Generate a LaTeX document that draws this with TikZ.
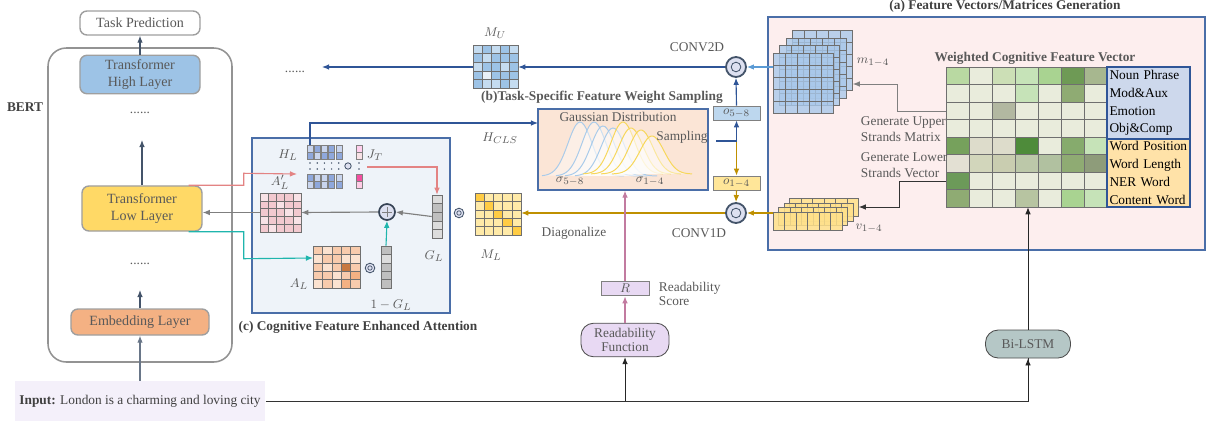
\documentclass[tikz,border=0pt]{standalone}
\usepackage{amsmath}
\usepackage{fontspec}
\setmainfont{Liberation Serif}
\usetikzlibrary{arrows.meta, positioning, calc, fit}

\definecolor{txtgray}{HTML}{595959}
\definecolor{ttlgray}{HTML}{404040}
\definecolor{arrdark}{HTML}{44546A}
\definecolor{bluedeep}{HTML}{2F5597}
\definecolor{bluemid}{HTML}{5B9BD5}
\definecolor{goldline}{HTML}{BF9000}
\definecolor{pinkline}{HTML}{E38383}
\definecolor{tealline}{HTML}{1FB5AD}
\definecolor{readpink}{HTML}{C27BA0}
\definecolor{frameblue}{HTML}{4A6EA8}
\definecolor{gridline}{HTML}{6F6F6F}
\definecolor{grayarr}{HTML}{7F7F7F}
\definecolor{highfill}{HTML}{9DC3E6}
\definecolor{lowfill}{HTML}{FFD966}
\definecolor{embfill}{HTML}{F4B183}
\definecolor{inputfill}{HTML}{F4F0FA}
\definecolor{cfill}{HTML}{EEF3F9}
\definecolor{afill}{HTML}{FDEEEE}
\definecolor{gaussfill}{HTML}{FBE5D6}
\definecolor{convfill}{HTML}{DDE0F0}
\definecolor{readfill}{HTML}{E8D9F3}
\definecolor{lstmfill}{HTML}{B5C7C6}
\definecolor{oblue}{HTML}{BDD7EE}
\definecolor{oyellow}{HTML}{FFE699}
\definecolor{labblue}{HTML}{CDD8EC}
\definecolor{laborange}{HTML}{FFE2A8}
\definecolor{curveblue}{HTML}{A9CBEA}
\definecolor{curveyel}{HTML}{F7D75A}
% matrix cells
\definecolor{bA}{HTML}{9DC3E6}
\definecolor{bB}{HTML}{C5DCF0}
\definecolor{bC}{HTML}{E8F0F8}
\definecolor{yD}{HTML}{FFCC44}
\definecolor{yL}{HTML}{FFEAA8}
\definecolor{pA}{HTML}{F2C9CF}
\definecolor{pB}{HTML}{F8E2E6}
\definecolor{oA}{HTML}{F8CBAD}
\definecolor{oB}{HTML}{FBE2D0}
\definecolor{oC}{HTML}{F4B183}
\definecolor{oD}{HTML}{C87840}
\definecolor{vL}{HTML}{DCDCDC}
\definecolor{vD}{HTML}{BFBFBF}
\definecolor{hA}{HTML}{8FA8DC}
\definecolor{hB}{HTML}{C9D5EE}
\definecolor{mblue}{HTML}{A9C8EA}
\definecolor{vyel}{HTML}{FFE08A}
% weighted feature grid
\definecolor{gL}{HTML}{E9ECDC}
\definecolor{gA}{HTML}{B9D9A2}
\definecolor{gB}{HTML}{CCDFB6}
\definecolor{gC}{HTML}{C6E3B8}
\definecolor{gD}{HTML}{A9D391}
\definecolor{gE}{HTML}{6E9A55}
\definecolor{gF}{HTML}{A7B78F}
\definecolor{gG}{HTML}{8FAB73}
\definecolor{gH}{HTML}{B2B8A1}
\definecolor{gI}{HTML}{76A15C}
\definecolor{gJ}{HTML}{DDDCCB}
\definecolor{gK}{HTML}{4E8B3A}
\definecolor{gM}{HTML}{86AB6D}
\definecolor{gN}{HTML}{E3E0D3}
\definecolor{gO}{HTML}{D2D6BB}
\definecolor{gP}{HTML}{C9CDB0}
\definecolor{gQ}{HTML}{BCC8A9}
\definecolor{gR}{HTML}{B1C1A0}
\definecolor{gS}{HTML}{8E9C7A}
\definecolor{gT}{HTML}{6C9A59}
\definecolor{gU}{HTML}{B7C4A1}

\newcommand{\fs}{\fontsize{9.5}{11}\selectfont}
% x0, y0, columns, cell width, cell height, colour list
\newcommand{\cellgrid}[6]{%
  \foreach \cc [count=\ii from 0] in {#6} {
    \pgfmathtruncatemacro{\rr}{\ii/#3}
    \pgfmathtruncatemacro{\kk}{mod(\ii,#3)}
    \filldraw[fill=\cc, draw=gridline, line width=0.4pt] ({#1+\kk*#4},{#2+\rr*#5}) rectangle ++(#4,#5);
  }}

\begin{document}
\begin{tikzpicture}[
  x=0.025cm, y=-0.025cm,
  every node/.style={font=\fs, text=txtgray, align=center},
  title/.style={font=\fs\bfseries, text=ttlgray},
  layer/.style={rectangle, draw=gray!75, line width=1pt, rounded corners=5pt, minimum width=3cm,
    font=\fontsize{10}{11.5}\selectfont},
  pill/.style={rectangle, draw=gray!60!black, line width=0.6pt, rounded corners=9pt, font=\fontsize{9.5}{10.5}\selectfont},
  gridbox/.style={inner sep=0pt},
  frame/.style={draw=frameblue, line width=0.9pt},
  conv/.style={circle, draw=arrdark, line width=1.3pt, fill=convfill, minimum size=0.5cm, inner sep=0pt,
    path picture={\draw[arrdark, line width=0.6pt] (path picture bounding box.center) circle (0.12cm);}},
  odot/.style={circle, draw=arrdark, line width=0.6pt, fill=convfill, minimum size=0.24cm, inner sep=0pt,
    path picture={\draw[arrdark, line width=0.5pt] (path picture bounding box.center) circle (0.055cm);}},
  plusnode/.style={circle, draw=arrdark!80!black, line width=1.2pt, fill=convfill, minimum size=0.4cm, inner sep=0pt,
    path picture={\draw[gray, line width=0.6pt]
      ([xshift=-0.12cm]path picture bounding box.center) -- ([xshift=0.12cm]path picture bounding box.center)
      ([yshift=-0.12cm]path picture bounding box.center) -- ([yshift=0.12cm]path picture bounding box.center);}},
  vecbox/.style={rectangle, draw=gray, line width=0.5pt, inner sep=0pt, minimum width=1.175cm, minimum height=0.35cm},
  labbox/.style={rectangle, draw=bluedeep, line width=0.8pt, text=black, align=left, minimum width=2.075cm,
    text width=1.95cm, inner sep=1pt, font=\fontsize{9.5}{12.6}\selectfont},
  arr/.style={-{Latex[length=5pt,width=4pt]}, line width=0.8pt},
]
\useasboundingbox (0,0) rectangle (1214,421);

% ---------------- BERT ----------------
\node[draw=gray!85, line width=1.1pt, rounded corners=13pt, fit={(48,48) (232,362)}, inner sep=0pt] (bert) {};
\node[font=\fs\bfseries, text=ttlgray] (bertlab) at (25,107) {BERT};
\node[layer, fill=white, minimum width=3cm, minimum height=0.6cm] (task) at (140,23) {Task Prediction};
\node[layer, fill=highfill, minimum height=0.925cm] (high) at (140,74.5) {Transformer\\High Layer};
\node[layer, fill=lowfill, minimum height=1.125cm] (low) at (142,208.5) {Transformer\\Low Layer};
\node[layer, fill=embfill, minimum width=3.45cm, minimum height=0.65cm] (emb) at (140,322) {Embedding Layer};
\node (dotsA) at (140,113) {......};
\node (dotsB) at (140,264) {......};
\node[fill=inputfill, minimum width=6.2cm, minimum height=1cm, text=ttlgray] (input) at (140,401)
  {\textbf{Input:} London is a charming and loving city};
\coordinate (lowup) at (142,140);
\coordinate (embup) at (140,290);

\draw[arr, arrdark] (high.north) -- (task.south);
\draw[arr, arrdark] (low.north) -- (lowup);
\draw[arr, arrdark] (emb.north) -- (embup);
\draw[arr, arrdark!80] (input.north) -- (emb.south);

% ---------------- (c) ----------------
\node[frame, fill=cfill, fit={(252,138) (450,313)}, inner sep=0pt] (cbox) {};
\node[title] (ctitle) at (358,327) {(c) Cognitive Feature Enhanced Attention};

% H_L and J_T bars
\foreach \i/\ca/\cb/\cc/\cd in {0/hB/hA/hA/hB, 1/hA/hB/hB/hA, 2/hB/hA/hB/hB, 3/hA/hA/hA/hA, 4/hB/hA/hB/hA} {
  \filldraw[fill=\ca, draw=gray, line width=0.3pt] ({307+7.2*\i},145) rectangle ++(6,7);
  \filldraw[fill=\cb, draw=gray, line width=0.3pt] ({307+7.2*\i},152) rectangle ++(6,7);
  \filldraw[fill=\cc, draw=gray, line width=0.3pt] ({307+7.2*\i},174) rectangle ++(6,7);
  \filldraw[fill=\cd, draw=gray, line width=0.3pt] ({307+7.2*\i},181) rectangle ++(6,7);
  \fill[arrdark] ({310+7.2*\i},163) circle (0.6pt) ({310+7.2*\i},169) circle (0.6pt);
}
\filldraw[fill=pink!70!magenta!40, draw=gray, line width=0.3pt] (356,145) rectangle ++(6,7);
\filldraw[fill=pB, draw=gray, line width=0.3pt] (356,152) rectangle ++(6,7);
\filldraw[fill=magenta!60!pink, draw=gray, line width=0.3pt] (356,174) rectangle ++(6,7);
\filldraw[fill=pink!80!magenta!50, draw=gray, line width=0.3pt] (356,181) rectangle ++(6,7);
\fill[arrdark] (359,163) circle (0.6pt) (359,169) circle (0.6pt);
\node[odot, minimum size=0.16cm, path picture={}] (hjdot) at (348,166) {};
\node (HLlab) at (288,155) {$H_L$};
\node (JTlab) at (375,155) {$J_T$};
\coordinate (hcls) at (310,145);
\coordinate (hlin) at (297,174);
\coordinate (jtout) at (367,167);

% A'_L
\cellgrid{260}{193}{5}{8.2}{7.8}{pB,pA,pA,pA,pB, pA,pA,pB,pA,pA, pA,pA,pA,pB,pA, pB,pA,pA,pA,pB, pA,pB,pA,pA,pA}
\node[gridbox, fit={(260,193) (301,232)}] (ALp) {};
\node (ALplab) at (280,182) {$A'_L$};

% A_L
\cellgrid{313}{246}{5}{9.4}{8.4}{oA,oB,oA,oA,oA, oB,oA,oA,oB,oB, oA,oB,oA,oD,oA, oA,oA,oB,oA,oC, oB,oA,oB,oC,oA}
\node[gridbox, fit={(313,246) (360,288)}] (AL) {};
\node (ALlab) at (299,284) {$A_L$};
\node[odot] (dotA) at (370,268) {};

% G_L and 1-G_L
\cellgrid{432}{195}{1}{10}{8.6}{vL,vD,vD,vL,vL}
\node[gridbox, fit={(432,195) (442,238)}] (GL) {};
\node (GLlab) at (434,256) {$G_L$};
\cellgrid{381}{246}{1}{10}{8.4}{vD,vL,vD,vD,vD}
\node[gridbox, fit={(381,246) (391,288)}] (omGL) {};
\node (omGLlab) at (391,305) {$1-G_L$};
\node[plusnode] (plus) at (387,212) {};
\coordinate (alin) at (313,258);

\draw[arr, grayarr] (GL.west) -- (plus.east);
\draw[arr, grayarr] (plus.west) -- (ALp.east);
\draw[arr, grayarr] (ALp.west) -- (ALp.west -| low.east);
\draw[arr, tealline] (omGL.north) -- (plus.south);
\draw[arr, pinkline] ($(low.north east)+(-14,0)$) -- ++(55,0) -- ++(0,-12) -- (hlin);
\draw[arr, tealline] ($(low.south east)+(-14,0)$) -- ++(55,0) -- ++(0,27) -- (alin);
\draw[arr, pinkline] (jtout) -| (GL.north);

% ---------------- (b) ----------------
\node[title, text=txtgray] (btitle) at (602,97) {(b)Task-Specific Feature Weight Sampling};
\node[frame, fill=gaussfill, fit={(538,109) (708,190)}, inner sep=0pt] (gauss) {};
\foreach \mu/\h in {580/54, 594/54, 603/50, 613/48} {
  \draw[curveblue, line width=0.7pt, fill=white, fill opacity=0.4]
    plot[domain=\mu-38:\mu+44, samples=40, smooth] (\x,{176-\h*exp(-((\x-\mu)*(\x-\mu))/(2*12*12))});
}
\foreach \mu/\h in {623/52, 631/46, 641/44, 652/38} {
  \draw[curveyel, line width=0.7pt, fill=white, fill opacity=0.4]
    plot[domain=\mu-40:\mu+40, samples=40, smooth] (\x,{174-\h*exp(-((\x-\mu)*(\x-\mu))/(2*12*12))});
}
\node (gausslab) at (618,117) {Gaussian Distribution};
\node (samplab) at (682,137) {Sampling};
\node (sig58) at (570,181) {$\sigma_{5-8}$};
\node (sig14) at (650,181) {$\sigma_{1-4}$};
\node (hclslab) at (500,138) {$H_{CLS}$};
\coordinate (gin) at (538,123);
\draw[arr, bluedeep] (hcls) |- (gin);

\node[vecbox, fill=oblue] (o58) at (736.5,113) {$o_{5-8}$};
\node[vecbox, fill=oyellow] (o14) at (736.5,183) {$o_{1-4}$};
\node[conv] (c2d) at (736,67) {};
\node[conv] (c1d) at (736,213) {};
\node (c2dlab) at (697,47) {CONV2D};
\node (c1dlab) at (699,233) {CONV1D};
\coordinate (smp) at (716,141);
\draw[arr, goldline] (smp -| o14.north) -- (o14.north);
\draw[arr, bluedeep] (smp) -| (o58.south);
\draw[arr, bluedeep] (o58.north) -- (c2d.south);
\draw[arr, goldline] (o14.south) -- (c1d.north);

% M_U and M_L
\cellgrid{473}{45}{5}{9}{8.6}{bB,bA,bB,bA,bB, bA,bB,bA,bA,bA, bB,bA,bA,bB,bA, bA,bC,bA,bA,bA, bA,bB,bB,bA,bB}
\node[gridbox, fit={(473,45) (518,88)}] (MU) {};
\node (MUlab) at (495,33) {$M_U$};
\node (dotsC) at (295,72) {......};
\coordinate (muout) at (322,67);
\cellgrid{475}{193}{5}{9.2}{8.4}{yD,yL,yL,yL,yL, yL,yD,yL,yL,yL, yL,yL,yD,yL,yL, yL,yL,yL,yD,yL, yL,yL,yL,yL,yD}
\node[gridbox, fit={(475,193) (521,235)}] (ML) {};
\node (MLlab) at (491,255) {$M_L$};
\node (diaglab) at (574,233) {Diagonalize};
\node[odot] (dotB) at (459,213) {};

\draw[arr, bluedeep] (c2d.west) -- (MU.east |- c2d.west);
\draw[arr, bluedeep] (MU.west |- c2d.west) -- (muout);
\draw[arr, goldline] (c1d.west) -- (ML.east |- c1d.west);

% Readability
\node[pill, fill=readfill, minimum width=2.2cm, minimum height=0.725cm] (readfn) at (625,340) {Readability\\Function};
\node[rectangle, draw=gray, line width=0.6pt, fill=readfill, minimum width=1.2cm, minimum height=0.37cm, inner sep=0pt] (R) at (625,288.5) {$R$};
\node[anchor=west, align=left, font=\fontsize{9.5}{10.5}\selectfont] (Rlab) at (654,294) {Readability\\Score};
\draw[arr, readpink] (readfn.north) -- (R.south);
\draw[arr, readpink] (R.north) -- (R.north |- gauss.south);

% ---------------- (a) ----------------
\node[title] (atitle) at (1005,6) {(a) Feature Vectors/Matrices Generation};
\node[frame, fill=afill, fit={(768,17) (1205,250)}, inner sep=0pt] (abox) {};

% m stack
\foreach \k in {3,2,1,0} {
  \pgfmathsetmacro{\ox}{773+6.5*\k}
  \pgfmathsetmacro{\oy}{53-7.5*\k}
  \foreach \r in {0,...,4} \foreach \c in {0,...,4}
    \filldraw[fill=mblue, fill opacity=0.8, draw=gridline, line width=0.4pt] ({\ox+12*\c},{\oy+12*\r}) rectangle ++(12,12);
}
\node[gridbox, fit={(773,30.5) (852.5,113)}] (mstk) {};
\node (mlab) at (873,62) {$m_{1-4}$};

% v stack
\foreach \k in {3,2,1,0} {
  \pgfmathsetmacro{\ox}{773+5.5*\k}
  \pgfmathsetmacro{\oy}{212-4.5*\k}
  \foreach \c in {0,...,5}
    \filldraw[fill=vyel, fill opacity=0.85, draw=gridline, line width=0.4pt] ({\ox+11.5*\c},\oy) rectangle ++(11.5,18);
}
\node[gridbox, fit={(773,198.5) (858.5,230)}] (vstk) {};
\node (vlab) at (869,228) {$v_{1-4}$};

\draw[arr, bluemid] (c2d.east -| mstk.west) -- (c2d.east);
\draw[arr, goldline] (c1d.east -| vstk.west) -- (c1d.east);

% weighted cognitive feature vector
\node[title, text=txtgray] (wtitle) at (1035,58) {Weighted Cognitive Feature Vector};
\cellgrid{946}{67}{7}{23}{17.5}{gA,gL,gB,gC,gD,gE,gF, gL,gL,gL,gC,gL,gG,gL, gL,gL,gH,gL,gL,gL,gL, gL,gL,gL,gL,gL,gL,gL, gI,gJ,gJ,gK,gL,gM,gC, gN,gO,gP,gQ,gR,gG,gS, gT,gL,gL,gL,gL,gL,gL, gG,gL,gL,gU,gL,gD,gC}
\node[gridbox, fit={(946,67) (1107,207)}] (wgrid) {};
\node[labbox, fill=labblue, minimum height=1.8cm] (lab1) at (1148.5,103) {Noun Phrase\\ Mod\&Aux\\ Emotion\\ Obj\&Comp};
\node[labbox, fill=laborange, minimum height=1.7cm] (lab2) at (1148.5,173) {Word Position\\ Word Length\\ NER Word\\ Content Word};

\node[anchor=west, align=left] (uplab) at (856,129) {Generate Upper\\Strands Matrix};
\node[anchor=west, align=left] (lowlab) at (856,165) {Generate Lower\\Strands Vector};
\draw[arr, grayarr, line width=0.7pt] (wgrid.west |- 0,111) -- ++(-48,0) |- (mstk.east |- 0,84);
\draw[arr, black!80, line width=0.7pt] (wgrid.west |- 0,181) -- ++(-46,0) |- (vstk.east |- 0,207);

% Bi-LSTM and input line
\node[pill, fill=lstmfill, minimum width=2.125cm, minimum height=0.7cm] (lstm) at (1028,344) {Bi-LSTM};
\draw[black!80, line width=0.6pt] (input.east) -| (lstm.south);
\draw[arr, black!85, line width=0.6pt] (input.east -| lstm.south) -- (lstm.south);
\draw[arr, black!85, line width=0.6pt] (input.east -| readfn.south) -- (readfn.south);
\draw[arr, black!85, line width=0.6pt] (lstm.north) -- (lstm.north |- wgrid.south);
\end{tikzpicture}
\end{document}
